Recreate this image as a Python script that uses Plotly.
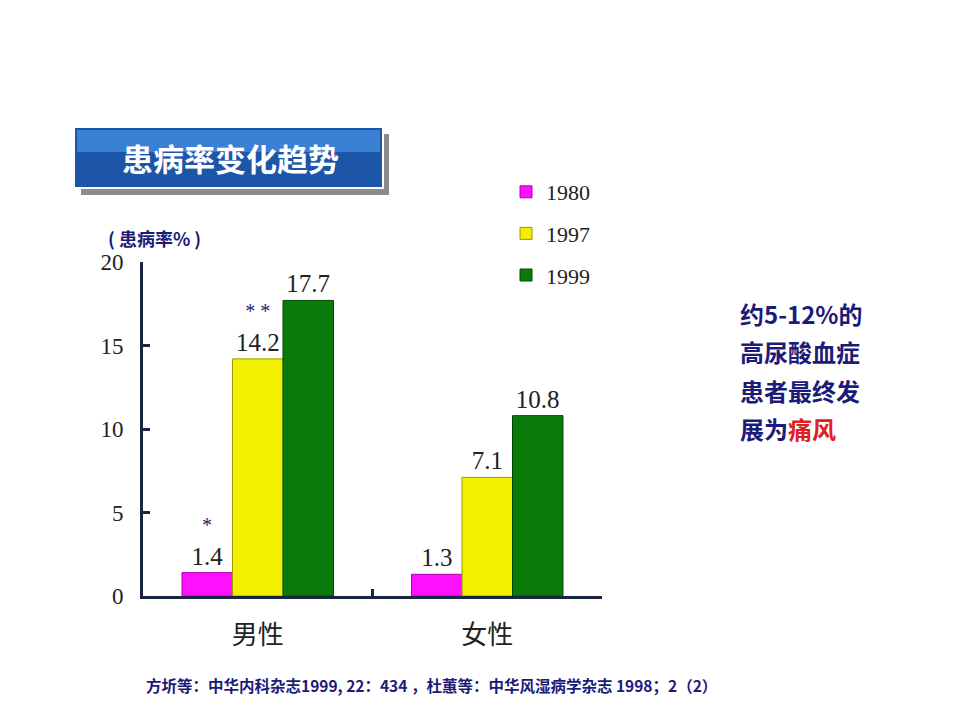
import plotly.graph_objects as go

# data
groups = ["男性", "女性"]
years = ["1980", "1997", "1999"]
rate_1980 = [1.4, 1.3]
rate_1997 = [14.2, 7.1]
rate_1999 = [17.7, 10.8]
stars_1980 = ["*", ""]
stars_1997 = ["* *", ""]
stars_1999 = ["", ""]
note_lines = ["约5-12%的", "高尿酸血症", "患者最终发", "展为<span style='color:#e02020'>痛风</span>"]

colors = ["#ff10ff", "#f2f000", "#0a7a0a"]
edge = ["#b000b0", "#9a9a00", "#004a00"]
navy = "#1c1c78"
serif = "Liberation Serif"
cjk = "Noto Sans CJK SC"

# plot area in pixels (used to place shapes / notes)
L, R, T, B = 143, 602, 262, 596
OFF = 8  # page offset of the figure


def px(x):
    return (x - L) / (R - L)


def py(y):
    return (B - y) / (B - T)


def label(vals, stars):
    out = []
    for v, s in zip(vals, stars):
        if s:
            out.append("<span style='color:%s;font-size:20px'>%s</span><br>%.1f" % (navy, s, v))
        else:
            out.append("%.1f" % v)
    return out


fig = go.Figure()
for i, (name, vals, stars) in enumerate(zip(years, [rate_1980, rate_1997, rate_1999],
                                              [stars_1980, stars_1997, stars_1999])):
    fig.add_trace(go.Bar(
        name=name, x=groups, y=vals,
        text=label(vals, stars), textposition="outside",
        textfont=dict(family=serif, size=25, color="#222222"),
        cliponaxis=False,
        marker=dict(color=colors[i], line=dict(color=edge[i], width=1)),
        legendgroup=name,
    ))

fig.update_layout(
    width=960, height=720,
    paper_bgcolor="white", plot_bgcolor="white",
    margin=dict(l=L - OFF, r=960 - R + OFF, t=T - OFF, b=720 - B + OFF),
    barmode="group", bargap=0.34, bargroupgap=0,
    showlegend=True,
    legend=dict(x=px(506), y=py(171), xanchor="left", yanchor="top",
                font=dict(family=serif, size=22, color="#222222"),
                tracegroupgap=10, itemwidth=30, bgcolor="rgba(0,0,0,0)"),
    font=dict(family=cjk),
)

fig.update_yaxes(range=[0, 20], dtick=5, showgrid=False, zeroline=False,
                 showline=True, linecolor="#1a2540", linewidth=3,
                 ticks="inside", ticklen=7, tickwidth=3, tickcolor="#1a2540",
                 tickfont=dict(family=serif, size=23, color="#222222"), ticklabelstandoff=12)
fig.update_xaxes(showgrid=False, showline=True, linecolor="#1a2540", linewidth=3,
                 ticks="inside", ticklen=7, tickwidth=3, tickcolor="#1a2540",
                 tickson="boundaries",
                 tickfont=dict(family=cjk, size=26, color="#222222"), ticklabelstandoff=14)

# title box with shadow
fig.add_shape(type="rect", xref="paper", yref="paper",
              x0=px(81), x1=px(389), y0=py(195), y1=py(134),
              fillcolor="#8c8c8c", line=dict(width=0), layer="below")
fig.add_shape(type="rect", xref="paper", yref="paper",
              x0=px(74), x1=px(383), y0=py(188), y1=py(127),
              fillcolor="#1d56a8", line=dict(color="white", width=2), layer="below")
fig.add_shape(type="rect", xref="paper", yref="paper",
              x0=px(77), x1=px(380), y0=py(152), y1=py(130),
              fillcolor="#3a80d4", line=dict(width=0), layer="below")
fig.add_annotation(text="<b>患病率变化趋势</b>", xref="paper", yref="paper",
                   x=px(230), y=py(157), xanchor="center", yanchor="middle", showarrow=False,
                   font=dict(family=cjk, size=31, color="white"))

# y-axis unit
fig.add_annotation(text="<b>( 患病率% )</b>", xref="paper", yref="paper",
                   x=px(106), y=py(238), xanchor="left", yanchor="middle", showarrow=False,
                   font=dict(family=cjk, size=18, color=navy))

# side note
for k, line in enumerate(note_lines):
    fig.add_annotation(
        text="<b>%s</b>" % line,
        xref="paper", yref="paper", x=px(738), y=py(313 + 38.5 * k),
        xanchor="left", yanchor="middle", showarrow=False,
        font=dict(family=cjk, size=24, color=navy))

# source
fig.add_annotation(
    text="<b>方圻等：中华内科杂志1999, 22：434 ，杜蕙等：中华风湿病学杂志 1998；2（2）</b>",
    xref="paper", yref="paper", x=px(144), y=py(685), xanchor="left", yanchor="middle",
    showarrow=False,
    font=dict(family=cjk, size=15.5, color=navy))

fig.write_html("out.html")
